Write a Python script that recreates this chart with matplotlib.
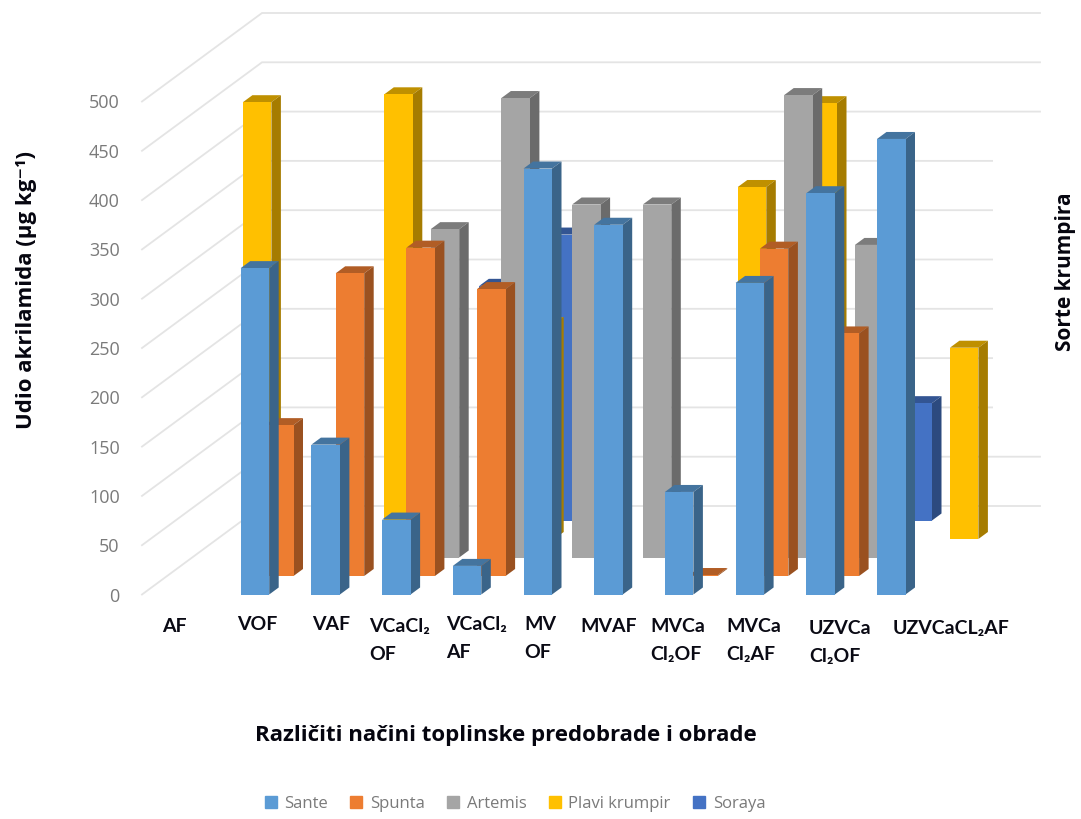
import numpy as np
import matplotlib
matplotlib.use("Agg")
import matplotlib.pyplot as plt
from matplotlib.patches import Patch, Rectangle

# ---------- data ----------
categories = ["AF", "VOF", "VAF", "VCaCl₂\nOF", "VCaCl₂\nAF", "MV\nOF", "MVAF",
              "MVCa\nCl₂OF", "MVCa\nCl₂AF", "UZVCa\nCl₂OF", "UZVCaCL₂AF"]
series_names = ["Sante", "Spunta", "Artemis", "Plavi krumpir", "Soraya"]
sante   = [0, 331, 152, 76, 29, 432, 375, 104, 316, 407, 462]
spunta  = [0, 153, 307, 333, 291, 0, 0, 1, 332, 246, 0]
artemis = [0, 0, 0, 333, 466, 358, 358, 0, 469, 317, 0]
plavi   = [443, 0, 451, 0, 218, 0, 0, 357, 442, 0, 194]
soraya  = [0, 0, 0, 238, 290, 0, 0, 0, 0, 119, 0]
series_values = [sante, spunta, artemis, plavi, soraya]
y_ticks = list(range(0, 501, 50))

# ---------- style ----------
face = ["#5B9BD5", "#ED7D31", "#A5A5A5", "#FFC000", "#4472C4"]
side = ["#3A6489", "#9A5120", "#6B6B6B", "#A67C00", "#2C4A7F"]
top  = ["#44749F", "#B15D25", "#7C7C7C", "#BF9000", "#335593"]
grid_c = "#E4E4E4"
W, H = 1081, 819
LABEL_FONT = ["Lato", "DejaVu Sans"]
HEAD_FONT = ["Open Sans", "DejaVu Sans"]

fig = plt.figure(figsize=(W / 100, H / 100), dpi=100, facecolor="white")
ax = fig.add_axes([142 / W, 1 - 594.5 / H, (920 - 142) / W, 493 / H])
cat_px = 70.7
px_per_unit = 493 / 500
ax.set_xlim(-42.25 / cat_px, 735.75 / cat_px)
ax.set_ylim(0, 500)
for s in ax.spines.values():
    s.set_visible(False)
ax.patch.set_alpha(0)

bar_w = 28.5 / cat_px
step_x, step_y = 24.3 / cat_px, 18.5 / px_per_unit
side_x, side_y = 9.5 / cat_px, 7 / px_per_unit
wall_x, wall_y = 120 / cat_px, 88.5 / px_per_unit
x0, x1 = ax.get_xlim()

# walls
for v in y_ticks:
    ax.plot([x0, x0 + wall_x, x1 + wall_x], [v, v + wall_y, v + wall_y],
            color=grid_c, lw=1.3, clip_on=False, zorder=1, solid_joinstyle="miter")
ax.add_patch(Rectangle((993 / W, 1 - 435 / H), 50 / W, 300 / H, transform=fig.transFigure,
                       color="white", lw=0, zorder=1.5, clip_on=False))

# bars: back series first, each as front, side and top faces
z = 2
for k in range(len(series_values) - 1, -1, -1):
    for i, v in enumerate(series_values[k]):
        if v <= 0:
            continue
        l = i - bar_w / 2 + k * step_x
        r = l + bar_w
        b = k * step_y
        t = b + v
        kw = dict(lw=0, clip_on=False, zorder=z)
        ax.fill([l, r, r + side_x, l + side_x], [t, t, t + side_y, t + side_y], color=top[k], **kw)
        ax.fill([r, r + side_x, r + side_x, r], [b, b + side_y, t + side_y, t], color=side[k], **kw)
        ax.fill([l, r, r, l], [b, b, t, t], color=face[k], **kw)
        z += 0.01

# y axis
ax.set_yticks(y_ticks)
ax.set_yticklabels([str(v) for v in y_ticks], family=HEAD_FONT, fontsize=13, color="#7A7A7A")
ax.tick_params(axis="y", length=0, pad=16)
ax.set_xticks([])

# category labels (left edge and first-line centre, in pixels of the figure)
label_left = [162, 237, 312, 369, 446, 524, 580, 650, 726, 809, 893]
label_line = [627, 625, 624, 627, 625, 625, 627, 627, 627, 629, 629]
for name, lx, ly in zip(categories, label_left, label_line):
    for n, line in enumerate(name.split("\n")):
        fig.text(lx / W, 1 - (ly + 28 * n) / H, line, family=LABEL_FONT, fontweight="bold",
                 fontsize=14, color="#0A0A14", ha="left", va="center")

fig.text(506 / W, 1 - 736 / H, "Različiti načini toplinske predobrade i obrade",
         family=HEAD_FONT, fontweight="bold", fontsize=16, color="#05050F", ha="center", va="center")
fig.text(27 / W, 1 - 290 / H, "Udio akrilamida (µg kg⁻¹)", family=HEAD_FONT, fontweight="bold",
         fontsize=16, color="#05050F", rotation=90, ha="center", va="center")
fig.text(1065 / W, 1 - 272 / H, "Sorte krumpira", family=HEAD_FONT, fontweight="bold",
         fontsize=15, color="#05050F", rotation=90, ha="center", va="center")

handles = [Patch(color=c, label=n) for c, n in zip(face, series_names)]
fig.legend(handles=handles, loc="center", bbox_to_anchor=(515 / W, 1 - 804 / H), ncol=5,
           frameon=False, handlelength=0.72, handleheight=0.72, handletextpad=0.45,
           columnspacing=1.35, borderpad=0,
           prop={"family": HEAD_FONT, "size": 12}, labelcolor="#7A7A7A")

fig.savefig("out.png", dpi=100)
